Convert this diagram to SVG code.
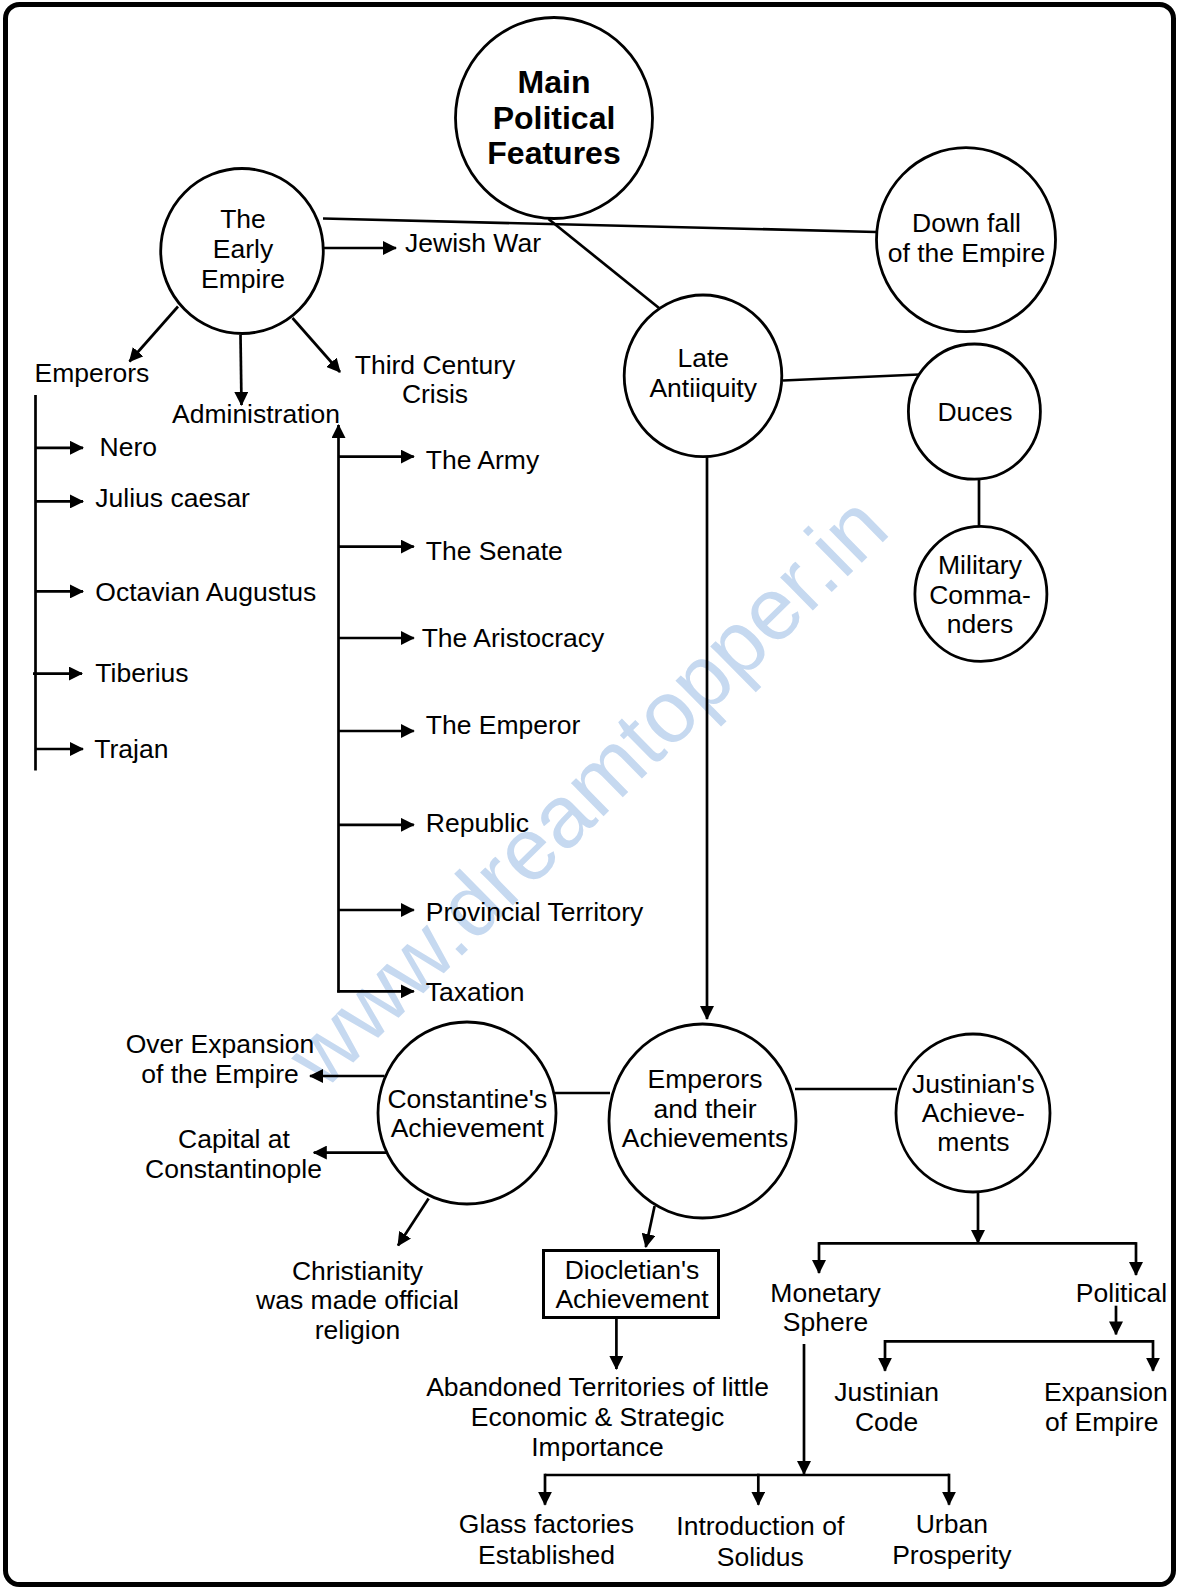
<svg xmlns="http://www.w3.org/2000/svg" width="1179" height="1589" viewBox="0 0 1179 1589">
<style>
  text { font-family: "Liberation Sans", Arial, sans-serif; font-size: 26.5px; fill: #000; }
  .c { text-anchor: middle; }
  .b { font-weight: bold; font-size: 32px; }
  .node { fill: #fff; stroke: #000; stroke-width: 2.8; }
  .ln { fill: none; stroke: #000; stroke-width: 2.7; }
  .ar { fill: none; stroke: #000; stroke-width: 2.7; marker-end: url(#ah); }
  .wm { font-size: 88px; fill: #c6d9f0; text-anchor: middle; }
</style>
<defs>
  <marker id="ah" viewBox="0 0 14 14" refX="13" refY="7" markerWidth="14" markerHeight="14" markerUnits="userSpaceOnUse" orient="auto">
    <path d="M0,0 L14,7 L0,14 z" fill="#000"/>
  </marker>
</defs>
<rect x="0" y="0" width="1179" height="1589" fill="#fff"/>
<text class="wm" transform="translate(608,812) rotate(-44.5)" x="0" y="0">www.dreamtopper.in</text>
<rect x="5.5" y="4.5" width="1168" height="1580" rx="14" ry="14" fill="none" stroke="#000" stroke-width="5"/>

<g id="connectors">
  <line class="ln" x1="323" y1="218.5" x2="876" y2="232"/>
  <line class="ln" x1="548.5" y1="219" x2="659" y2="308"/>
  <line class="ln" x1="783" y1="380.5" x2="919" y2="374.5"/>
  <line class="ln" x1="979" y1="479" x2="979" y2="527"/>
  <line class="ar" x1="707" y1="456.5" x2="707" y2="1019"/>
  <line class="ar" x1="323.4" y1="248" x2="396" y2="248"/>
  <line class="ar" x1="178" y1="306.5" x2="129.5" y2="361.5"/>
  <line class="ar" x1="240.5" y1="335" x2="241.5" y2="405"/>
  <line class="ar" x1="292.5" y1="318" x2="340" y2="372"/>
  <line class="ln" x1="35.5" y1="395" x2="35.5" y2="770.5"/>
  <line class="ar" x1="35.5" y1="447.8" x2="83" y2="447.8"/>
  <line class="ar" x1="35.5" y1="501.4" x2="83" y2="501.4"/>
  <line class="ar" x1="35.5" y1="591.4" x2="83" y2="591.4"/>
  <line class="ar" x1="33" y1="673.6" x2="82" y2="673.6"/>
  <line class="ar" x1="35.5" y1="749" x2="83" y2="749"/>
  <line class="ar" x1="338.5" y1="992.5" x2="338.5" y2="425"/>
  <line class="ar" x1="338.5" y1="456.6" x2="413.8" y2="456.6"/>
  <line class="ar" x1="338.5" y1="546.6" x2="413.8" y2="546.6"/>
  <line class="ar" x1="338.5" y1="638" x2="413.8" y2="638"/>
  <line class="ar" x1="338.5" y1="731" x2="413.8" y2="731"/>
  <line class="ar" x1="338.5" y1="824.8" x2="413.8" y2="824.8"/>
  <line class="ar" x1="338.5" y1="910" x2="413.8" y2="910"/>
  <line class="ar" x1="337.2" y1="991.3" x2="413.8" y2="991.3"/>
  <line class="ar" x1="384.6" y1="1076" x2="310" y2="1076"/>
  <line class="ar" x1="386.5" y1="1152.6" x2="313.8" y2="1152.6"/>
  <line class="ar" x1="428.6" y1="1198.6" x2="398" y2="1245.6"/>
  <line class="ln" x1="555" y1="1093" x2="610" y2="1093"/>
  <line class="ln" x1="795" y1="1089" x2="897" y2="1089"/>
  <line class="ar" x1="654.6" y1="1206" x2="645.8" y2="1247"/>
  <line class="ar" x1="616.4" y1="1317" x2="616.4" y2="1369"/>
  <line class="ar" x1="978" y1="1192" x2="978" y2="1243"/>
  <line class="ln" x1="819" y1="1243.4" x2="1136" y2="1243.4"/>
  <line class="ar" x1="819" y1="1242.1" x2="819" y2="1273"/>
  <line class="ar" x1="1136" y1="1242.1" x2="1136" y2="1275"/>
  <line class="ar" x1="1116" y1="1305.7" x2="1116" y2="1334.4"/>
  <line class="ln" x1="885" y1="1341.3" x2="1153" y2="1341.3"/>
  <line class="ar" x1="885" y1="1340" x2="885" y2="1370.8"/>
  <line class="ar" x1="1153" y1="1340" x2="1153" y2="1370.8"/>
  <line class="ar" x1="804" y1="1344" x2="804" y2="1474"/>
  <line class="ln" x1="545" y1="1475" x2="949" y2="1475"/>
  <line class="ar" x1="545" y1="1473.7" x2="545" y2="1504.7"/>
  <line class="ar" x1="758.3" y1="1473.7" x2="758.3" y2="1504.7"/>
  <line class="ar" x1="949" y1="1473.7" x2="949" y2="1504.7"/>
</g>

<g id="main">
  <ellipse class="node" cx="554" cy="118" rx="98.5" ry="100.5"/>
  <text class="c b" x="554" y="93">Main</text>
  <text class="c b" x="554" y="129">Political</text>
  <text class="c b" x="554" y="164">Features</text>
</g>
<g id="early-empire">
  <ellipse class="node" cx="242" cy="251" rx="81.3" ry="82.5"/>
  <text class="c" x="243" y="228">The</text>
  <text class="c" x="243" y="258">Early</text>
  <text class="c" x="243" y="288">Empire</text>
</g>
<g id="downfall">
  <ellipse class="node" cx="966" cy="239.7" rx="89.5" ry="92"/>
  <text class="c" x="966.5" y="231.7">Down fall</text>
  <text class="c" x="966.5" y="261.7">of the Empire</text>
</g>
<g id="late-antiquity">
  <ellipse class="node" cx="703" cy="375.8" rx="78.8" ry="80.8"/>
  <text class="c" x="703.2" y="367.3">Late</text>
  <text class="c" x="703.2" y="397.3">Antiiquity</text>
</g>
<g id="duces">
  <ellipse class="node" cx="974.4" cy="411.6" rx="66" ry="67.6"/>
  <text class="c" x="975" y="420.7">Duces</text>
</g>
<g id="military">
  <ellipse class="node" cx="980.9" cy="593.9" rx="66" ry="67.5"/>
  <text class="c" x="980" y="574">Military</text>
  <text class="c" x="980" y="603.6">Comma-</text>
  <text class="c" x="980" y="632.7">nders</text>
</g>
<g id="jewish-war"><text x="405" y="251.7">Jewish War</text></g>
<g id="emperors-label"><text x="34.5" y="381.7">Emperors</text></g>
<g id="administration"><text x="172" y="422.7">Administration</text></g>
<g id="third-century">
  <text class="c" x="435" y="374">Third Century</text>
  <text class="c" x="435" y="403.3">Crisis</text>
</g>
<g id="emperor-list">
  <text x="99.5" y="455.5">Nero</text>
  <text x="95.3" y="507">Julius caesar</text>
  <text x="95.3" y="601">Octavian Augustus</text>
  <text x="95.3" y="682">Tiberius</text>
  <text x="94.3" y="757.8">Trajan</text>
</g>
<g id="admin-list">
  <text x="425.8" y="468.9">The Army</text>
  <text x="425.8" y="559.6">The Senate</text>
  <text x="421.7" y="646.5">The Aristocracy</text>
  <text x="425.8" y="733.8">The Emperor</text>
  <text x="425.8" y="832">Republic</text>
  <text x="425.8" y="920.5">Provincial Territory</text>
  <text x="425.8" y="1001">Taxation</text>
</g>
<g id="constantine">
  <ellipse class="node" cx="467" cy="1113" rx="89" ry="91"/>
  <text class="c" x="467.3" y="1107.5">Constantine's</text>
  <text class="c" x="467.3" y="1137.3">Achievement</text>
</g>
<g id="over-expansion">
  <text class="c" x="220" y="1053">Over Expansion</text>
  <text class="c" x="220" y="1083">of the Empire</text>
</g>
<g id="capital">
  <text class="c" x="234" y="1147.7">Capital at</text>
  <text class="c" x="233.5" y="1177.5">Constantinople</text>
</g>
<g id="christianity">
  <text class="c" x="357.5" y="1279.7">Christianity</text>
  <text class="c" x="357.5" y="1308.8">was made official</text>
  <text class="c" x="357.5" y="1339">religion</text>
</g>
<g id="emperors-achievements">
  <ellipse class="node" cx="702.5" cy="1121" rx="93.5" ry="97"/>
  <text class="c" x="705" y="1087.6">Emperors</text>
  <text class="c" x="705" y="1118">and their</text>
  <text class="c" x="705" y="1147">Achievements</text>
</g>
<g id="justinian">
  <ellipse class="node" cx="973" cy="1113" rx="77" ry="79"/>
  <text class="c" x="973.4" y="1092.6">Justinian's</text>
  <text class="c" x="973.4" y="1122">Achieve-</text>
  <text class="c" x="973.4" y="1150.7">ments</text>
</g>
<g id="diocletian">
  <rect x="543.5" y="1250.5" width="175" height="67" fill="#fff" stroke="#000" stroke-width="3"/>
  <text class="c" x="632" y="1279">Diocletian's</text>
  <text class="c" x="632" y="1308.4">Achievement</text>
</g>
<g id="abandoned">
  <text class="c" x="597.5" y="1395.7">Abandoned Territories of little</text>
  <text class="c" x="597.5" y="1425.5">Economic &amp; Strategic</text>
  <text class="c" x="597.5" y="1455.7">Importance</text>
</g>
<g id="monetary">
  <text class="c" x="825.6" y="1302">Monetary</text>
  <text class="c" x="825.6" y="1331">Sphere</text>
</g>
<g id="political"><text class="c" x="1121.5" y="1302">Political</text></g>
<g id="justinian-code">
  <text class="c" x="886.6" y="1401.4">Justinian</text>
  <text class="c" x="886.6" y="1431">Code</text>
</g>
<g id="expansion">
  <text x="1044" y="1401.4">Expansion</text>
  <text x="1045" y="1431">of Empire</text>
</g>
<g id="glass">
  <text class="c" x="546.5" y="1533.4">Glass factories</text>
  <text class="c" x="546.5" y="1564">Established</text>
</g>
<g id="solidus">
  <text class="c" x="760.3" y="1535.4">Introduction of</text>
  <text class="c" x="760.3" y="1566">Solidus</text>
</g>
<g id="urban">
  <text class="c" x="951.8" y="1533.4">Urban</text>
  <text class="c" x="951.8" y="1564">Prosperity</text>
</g>
</svg>
